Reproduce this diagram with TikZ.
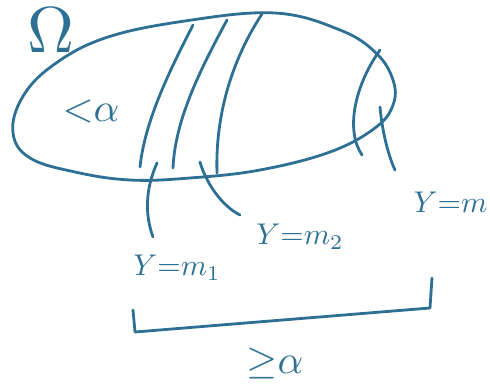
\documentclass[tikz,border=0pt]{standalone}
\usepackage{amsmath,amssymb}
\usepackage{tikz}
\usepackage{xcolor}
\definecolor{ink}{RGB}{45,112,148}
\tikzset{pen/.style={draw=ink,line width=2.8pt,line cap=round,line join=round},
  lbl/.style={text=ink,inner sep=0pt}}

\begin{document}
\begin{tikzpicture}[x=1pt,y=-1pt]
\useasboundingbox (0,0) rectangle (490,387);
% the set
\draw[pen] plot[smooth cycle,tension=0.65] coordinates {(13,133) (22,98) (52,66) (105,38) (185,21) (275,13) (340,30) (376,53) (393,80) (393,105) (375,128) (330,152) (260,170) (190,178) (130,180) (75,172) (30,158)};
% slices
\draw[pen] (193,25) .. controls (170,70) and (145,120) .. (140,167);
\draw[pen] (227,20) .. controls (200,70) and (175,120) .. (173,168);
\draw[pen] (262,14) .. controls (235,55) and (215,110) .. (217,173);
\draw[pen] (380,50) .. controls (355,85) and (345,130) .. (362,155);
\draw[pen] (380,107) .. controls (382,130) and (388,155) .. (395,170);
% labels
\node[lbl,scale=6.5] (omega) at (51,30) {$\Omega$};
\node[lbl,scale=4] (lessa) at (91,112) {${<}\alpha$};
\node[lbl,scale=3] (m1) at (177,268) {$Y{=}m_1$};
\node[lbl,scale=3] (m2) at (300,237) {$Y{=}m_2$};
\node[lbl,scale=3,anchor=east] (mm) at (488,202) {$Y{=}m$};
\node[lbl,scale=4] (geqa) at (275,363) {${\geq}\alpha$};
% leaders
\coordinate (s1) at (157,163);
\coordinate (s2) at (200,162);
\coordinate (t1) at (153,237);
\coordinate (t2) at (240,215);
\draw[pen] (s1) .. controls (145,190) and (145,215) .. (t1);
\draw[pen] (s2) .. controls (205,180) and (220,205) .. (t2);
% bracket
\draw[pen] (432,278) -- (430,308) -- (135,332) -- (133,310);
\end{tikzpicture}
\end{document}
